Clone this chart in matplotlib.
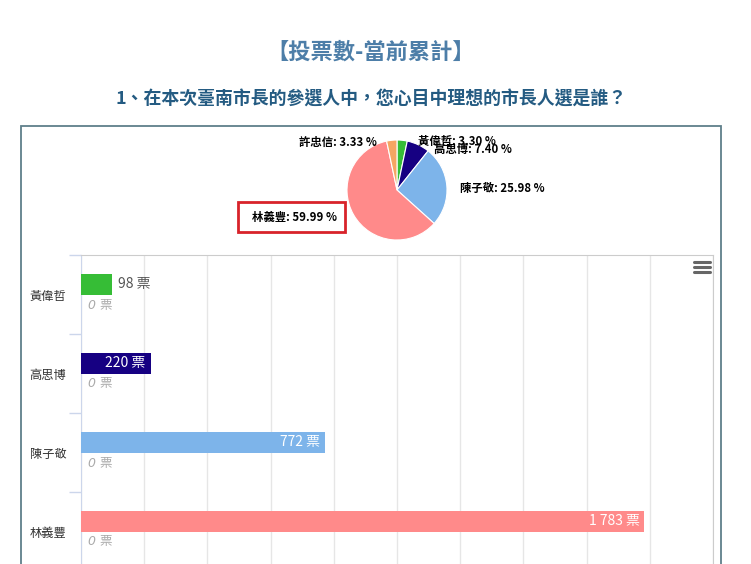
import numpy as np
import matplotlib.pyplot as plt
from matplotlib.patches import Rectangle
from matplotlib.lines import Line2D

plt.rcParams['font.family'] = ['Noto Sans CJK TC', 'DejaVu Sans']

# data
names = ["黃偉哲", "高思博", "陳子敬", "林義豐", "許忠信"]
votes = [98, 220, 772, 1783, 99]
prev_votes = [0, 0, 0, 0, 0]
colors = ["#36bd36", "#160082", "#7db4ea", "#ff8a8a", "#f5a662"]
title = "【投票數-當前累計】"
subtitle = "1、在本次臺南市長的參選人中，您心目中理想的市長人選是誰？"
x_max = 2000
x_step = 200
shown = 4  # bar rows visible before the picture is cut

W, H = 751, 564
fig = plt.figure(figsize=(W / 100, H / 100), dpi=100)


def box(x0, y0, x1, y1):
    # pixel box (top-left origin) -> figure fraction rect
    return [x0 / W, 1 - y1 / H, (x1 - x0) / W, (y1 - y0) / H]


def fx(x):
    return x / W


def fy(y):
    return 1 - y / H


# titles
fig.text(fx(371), fy(52), title, ha="center", va="center", fontsize=16,
         color="#4d7ea8", fontweight="bold")
fig.text(fx(371), fy(100), subtitle, ha="center", va="center", fontsize=12.9,
         color="#245b82", fontweight="bold")

# outer frame
fig.patches.append(Rectangle((fx(21), fy(700)), fx(721) - fx(21), fy(126) - fy(700),
                             transform=fig.transFigure, fill=False,
                             edgecolor="#5f7f8a", linewidth=1.3))

# bar chart
band = 79
bnames = names[:shown]
bvotes = votes[:shown]
bprev = prev_votes[:shown]
bcolors = colors[:shown]
ax = fig.add_axes(box(81, 255, 713, 255 + band * shown))
y = np.arange(shown)
bh = 21 / band
off = 10.5 / band
ax.barh(y - off, bvotes, height=bh, color=bcolors, zorder=3)
ax.barh(y + off, bprev, height=bh, color=bcolors, zorder=3)
ax.set_xlim(0, x_max)
ax.set_ylim(shown - 0.5, -0.5)
ax.set_xticks(np.arange(0, x_max + 1, x_step))
ax.grid(axis="x", color="#e6e6e6", linewidth=1, zorder=0)
ax.tick_params(axis="x", length=0, labelbottom=False)
ax.set_yticks(np.arange(shown) - 0.5)
ax.set_yticks(y, minor=True)
ax.set_yticklabels([])
ax.set_yticklabels(bnames, minor=True, fontsize=8.8, color="#333333")
ax.tick_params(axis="y", which="major", length=9, color="#ccd6eb", width=1)
ax.tick_params(axis="y", which="minor", length=0, pad=10.5)
for s in ["top", "right"]:
    ax.spines[s].set_color("#cccccc")
ax.spines["left"].set_color("#ccd6eb")
ax.spines["bottom"].set_visible(False)
ax.set_facecolor("none")

px = x_max / 632.0
for i, v in enumerate(bvotes):
    lab = f"{v:,}".replace(",", " ") + " 票"
    if v * (632 / x_max) > 60:
        ax.text(v - 5 * px, i - off, lab, ha="right", va="center", fontsize=10,
                color="white", zorder=5)
    else:
        ax.text(v + 6 * px, i - off, lab, ha="left", va="center", fontsize=10,
                color="#555555", zorder=5)
    ax.text(bprev[i] + 7 * px, i + off, f"{bprev[i]} 票", ha="left",
            va="center", fontsize=9, color="#aaaaaa", style="italic", zorder=5,
            family=["DejaVu Sans", "Noto Sans CJK TC"])

# menu icon
for yy in (262, 267, 272):
    fig.lines.append(Line2D([fx(694), fx(710)], [fy(yy), fy(yy)],
                            transform=fig.transFigure, color="#666666",
                            linewidth=2.2, solid_capstyle="round"))

# pie chart
pax = fig.add_axes(box(347, 140, 447, 240))
pax.pie(votes, colors=colors, startangle=90, counterclock=False,
        wedgeprops=dict(edgecolor="white", linewidth=0.8))
pax.set_xlim(-1, 1)
pax.set_ylim(-1, 1)
pax.set_aspect("equal")

total = sum(votes)
pct = [v / total * 100 for v in votes]
label_pos = {
    "黃偉哲": (418, 141, "left"),
    "高思博": (434, 149, "left"),
    "陳子敬": (460, 188, "left"),
    "林義豐": (337, 217, "right"),
    "許忠信": (377, 142, "right"),
}
for nm, p in zip(names, pct):
    lx, ly, ha = label_pos[nm]
    fig.text(fx(lx), fy(ly), f"{nm}: {p:.2f} %", ha=ha, va="center",
             fontsize=8.2, fontweight="bold", color="black")

# highlight box
fig.patches.append(Rectangle((fx(238), fy(232)), fx(345) - fx(238), fy(202) - fy(232),
                             transform=fig.transFigure, fill=False,
                             edgecolor="#d8232a", linewidth=2))

fig.savefig("out.png", dpi=100)
